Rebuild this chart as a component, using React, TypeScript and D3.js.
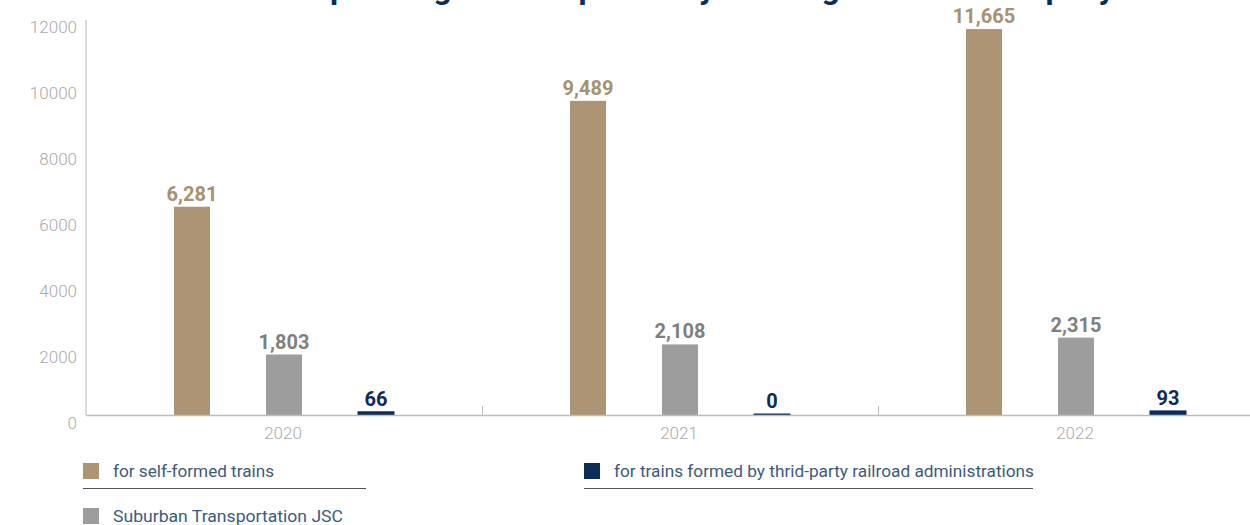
import React from "react";
import * as d3 from "d3";

const years = ["2020", "2021", "2022"];
const seriesNames = [
  "for self-formed trains",
  "Suburban Transportation JSC",
  "for trains formed by thrid-party railroad administrations",
];
const selfFormed = [6281, 9489, 11665];
const suburban = [1803, 2108, 2315];
const thirdParty = [66, 0, 93];
const yTicks = [0, 2000, 4000, 6000, 8000, 10000, 12000];
const title = "Number of passengers transported by the long-distance company";

const W = 1250;
const H = 525;
const barColors = ["#ad9475", "#9d9d9d", "#0b2d5a"];
const labelColors = ["#a8916f", "#7f7f7f", "#0b2d5a"];

export default function App() {
  const x = d3.scaleBand<string>().domain(years).range([86, 1274]).paddingInner(0);
  const y = d3.scaleLinear().domain([0, 12000]).range([415, 19]);
  const sx = d3.scalePoint<number>().domain([0, 1, 2]).range([-92, 92]);
  const seriesVals = [selfFormed, suburban, thirdParty];
  const bw = 36;
  const fmt = d3.format(",");

  return (
    <svg
      width={W}
      height={H}
      style={{ position: "absolute", left: 0, top: 0, background: "#fff" }}
      fontFamily="Roboto, sans-serif"
    >
      <text x={642} y={-1.5} textAnchor="middle" fontSize={32} fontWeight={700} fill="#0b2d5a">
        {title}
      </text>

      {/* y axis */}
      <line x1={86} x2={86} y1={20} y2={415} stroke="#c4c4c4" strokeWidth={1.2} />
      {yTicks.map((t) => (
        <text
          key={t}
          x={77}
          y={y(t) + 14}
          textAnchor="end"
          fontSize={17}
          fontWeight={300}
          fill="#a9a9a9"
        >
          {t}
        </text>
      ))}

      {/* bars */}
      {years.map((yr, i) => (
        <g key={yr}>
          {seriesVals.map((vals, s) => {
            const cx = (x(yr) as number) + x.bandwidth() / 2 + (sx(s) as number);
            const v = vals[i];
            const top = y(v);
            return (
              <g key={s}>
                <rect
                  x={cx - bw / 2}
                  y={top - 1}
                  width={bw}
                  height={y(0) - top + 1}
                  fill={barColors[s]}
                  stroke={barColors[s]}
                  strokeWidth={s === 2 ? 1 : 0}
                />
                <text
                  x={cx}
                  y={top - 7}
                  textAnchor="middle"
                  fontSize={20}
                  fontWeight={700}
                  fill={labelColors[s]}
                >
                  {fmt(v)}
                </text>
              </g>
            );
          })}
        </g>
      ))}

      {/* x axis */}
      <line x1={86} x2={W} y1={415.5} y2={415.5} stroke="#bdbdbd" strokeWidth={1.5} />
      {years.slice(1).map((yr) => (
        <line
          key={yr}
          x1={(x(yr) as number) + 0.5}
          x2={(x(yr) as number) + 0.5}
          y1={406}
          y2={415}
          stroke="#bdbdbd"
          strokeWidth={1}
        />
      ))}
      {years.map((yr) => (
        <text
          key={yr}
          x={(x(yr) as number) + x.bandwidth() / 2 - 1}
          y={439}
          textAnchor="middle"
          fontSize={17}
          fontWeight={300}
          fill="#a9a9a9"
        >
          {yr}
        </text>
      ))}

      {/* legend */}
      {[
        { s: 0, lx: 83, ly: 463, tl: 161, ul: 366 },
        { s: 1, lx: 83, ly: 508, tl: 230, ul: 0 },
        { s: 2, lx: 584, ly: 463, tl: 420, ul: 1033 },
      ].map((d) => (
        <g key={d.s}>
          <rect x={d.lx} y={d.ly} width={16} height={16} fill={barColors[d.s]} />
          <text
            x={d.lx + 30}
            y={d.ly + 14}
            fontSize={17}
            fill="#3d5a80"
            textLength={d.tl}
            lengthAdjust="spacingAndGlyphs"
          >
            {seriesNames[d.s]}
          </text>
          {d.ul > 0 && (
            <line x1={d.lx} x2={d.ul} y1={488.5} y2={488.5} stroke="#555" strokeWidth={1} />
          )}
        </g>
      ))}
    </svg>
  );
}
